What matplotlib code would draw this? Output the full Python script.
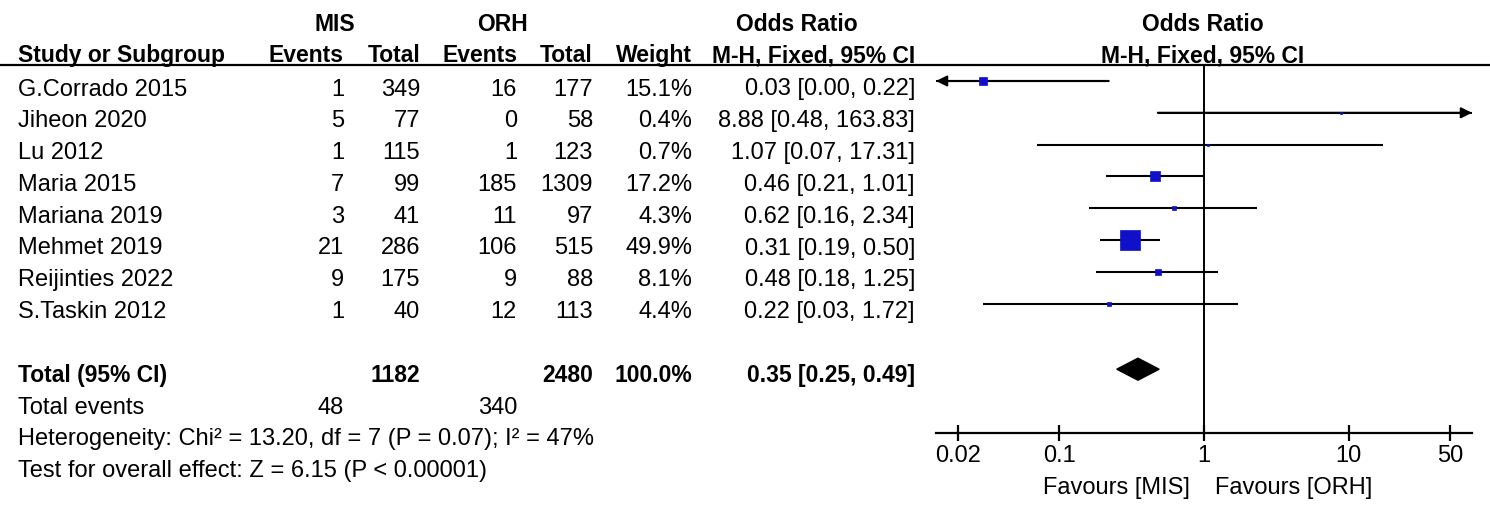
import numpy as np
import matplotlib.pyplot as plt
from matplotlib.patches import Polygon

plt.rcParams['font.family'] = ['Liberation Sans', 'DejaVu Sans']

# 研究数据
studies = ['G.Corrado 2015', 'Jiheon 2020', 'Lu 2012', 'Maria 2015', 'Mariana 2019',
           'Mehmet 2019', 'Reijinties 2022', 'S.Taskin 2012']
mis_events = [1, 5, 1, 7, 3, 21, 9, 1]
mis_total = [349, 77, 115, 99, 41, 286, 175, 40]
orh_events = [16, 0, 1, 185, 11, 106, 9, 12]
orh_total = [177, 58, 123, 1309, 97, 515, 88, 113]
weights = [15.1, 0.4, 0.7, 17.2, 4.3, 49.9, 8.1, 4.4]
odds = [0.03, 8.88, 1.07, 0.46, 0.62, 0.31, 0.48, 0.22]
ci_low = [0.00, 0.48, 0.07, 0.21, 0.16, 0.19, 0.18, 0.03]
ci_high = [0.22, 163.83, 17.31, 1.01, 2.34, 0.50, 1.25, 1.72]

# 合并结果
total_mis, total_orh = 1182, 2480
total_weight = 100.0
events_mis, events_orh = 48, 340
total_or, total_low, total_high = 0.35, 0.25, 0.49
heterogeneity = 'Heterogeneity: Chi² = 13.20, df = 7 (P = 0.07); I² = 47%'
overall = 'Test for overall effect: Z = 6.15 (P < 0.00001)'

ticks = [0.02, 0.1, 1, 10, 50]
tick_labels = ['0.02', '0.1', '1', '10', '50']

W, H = 1490, 512
FS, FSB = 17, 16.5
blue = '#1010c8'

fig = plt.figure(figsize=(W / 100, H / 100), dpi=100)
tab = fig.add_axes([0, 0, 1, 1])
tab.set_xlim(0, W)
tab.set_ylim(H, 0)
tab.axis('off')


def row_y(i):
    return 81 + 31.8 * i


def base(i):
    return row_y(i) + 14.5


cols = [344, 420, 517, 593, 692, 915]

# 表头
for x, s in [(335, 'MIS'), (502, 'ORH'), (797, 'Odds Ratio'), (1203, 'Odds Ratio')]:
    tab.text(x, 31, s, ha='center', va='baseline', fontsize=FSB, fontweight='bold')
tab.text(18, 62, 'Study or Subgroup', ha='left', va='baseline', fontsize=FSB, fontweight='bold')
for x, s in zip(cols, ['Events', 'Total', 'Events', 'Total', 'Weight', 'M-H, Fixed, 95% CI']):
    tab.text(x, 62, s, ha='right', va='baseline', fontsize=FSB, fontweight='bold')
tab.text(1203, 62, 'M-H, Fixed, 95% CI', ha='center', va='baseline', fontsize=FSB, fontweight='bold')
tab.plot([0, W], [65, 65], color='black', lw=1.6)

# 各研究行
for i, name in enumerate(studies):
    y = base(i)
    tab.text(18, y, name, ha='left', va='baseline', fontsize=FS)
    vals = [str(mis_events[i]), str(mis_total[i]), str(orh_events[i]), str(orh_total[i]),
            f'{weights[i]:.1f}%', f'{odds[i]:.2f} [{ci_low[i]:.2f}, {ci_high[i]:.2f}]']
    for x, s in zip(cols, vals):
        tab.text(x, y, s, ha='right', va='baseline', fontsize=FS)

# 合计
y = base(9)
tab.text(18, y, 'Total (95% CI)', ha='left', va='baseline', fontsize=FSB, fontweight='bold')
for x, s in zip([420, 593, 692, 915],
                [str(total_mis), str(total_orh), f'{total_weight:.1f}%',
                 f'{total_or:.2f} [{total_low:.2f}, {total_high:.2f}]']):
    tab.text(x, y, s, ha='right', va='baseline', fontsize=FSB, fontweight='bold')
y = base(10)
tab.text(18, y, 'Total events', ha='left', va='baseline', fontsize=FS)
tab.text(344, y, str(events_mis), ha='right', va='baseline', fontsize=FS)
tab.text(517, y, str(events_orh), ha='right', va='baseline', fontsize=FS)
tab.text(18, base(11), heterogeneity, ha='left', va='baseline', fontsize=FS)
tab.text(18, base(12), overall, ha='left', va='baseline', fontsize=FS)

# 森林图
ax = fig.add_axes([936 / W, (H - 433) / H, (1472 - 936) / W, (433 - 65) / H])
ax.patch.set_alpha(0)
ax.set_xscale('log')
xmin, xmax = 10 ** -1.85, 10 ** 1.85
ax.set_xlim(xmin, xmax)
ax.set_ylim(433, 65)
for s in ['top', 'left', 'right']:
    ax.spines[s].set_visible(False)
ax.spines['bottom'].set_linewidth(1.6)
ax.set_yticks([])
ax.set_xticks(ticks)
ax.set_xticklabels(tick_labels, fontsize=FS)
ax.minorticks_off()
ax.tick_params(axis='x', direction='inout', length=12, width=1.6, pad=3)
ax.axvline(1, color='black', lw=1.4)

for i in range(len(studies)):
    y = row_y(i)
    lo = max(ci_low[i], xmin)
    hi = min(ci_high[i], xmax)
    ax.plot([lo, hi], [y, y], color='black', lw=1.5, solid_capstyle='butt')
    if ci_low[i] < xmin:
        ax.annotate('', xy=(xmin, y), xytext=(hi, y), annotation_clip=False,
                    arrowprops=dict(arrowstyle='-|>', color='black', lw=1.5,
                                    mutation_scale=16, shrinkA=0, shrinkB=0))
    if ci_high[i] > xmax:
        ax.annotate('', xy=(xmax, y), xytext=(lo, y), annotation_clip=False,
                    arrowprops=dict(arrowstyle='-|>', color='black', lw=1.5,
                                    mutation_scale=16, shrinkA=0, shrinkB=0))
    side = max(20 * (weights[i] / 49.9) ** 0.7, 2) * 0.72
    ax.plot(odds[i], y, marker='s', ms=side, color=blue, mec=blue, mew=0.5, zorder=3)

yd = row_y(9) + 2
h = 11
ax.add_patch(Polygon([(total_low, yd), (total_or, yd - h), (total_high, yd), (total_or, yd + h)],
                     closed=True, color='black', zorder=3))

tab.text(1190, 494, 'Favours [MIS]', ha='right', va='baseline', fontsize=FS)
tab.text(1215, 494, 'Favours [ORH]', ha='left', va='baseline', fontsize=FS)

fig.savefig('out.png', dpi=100)
